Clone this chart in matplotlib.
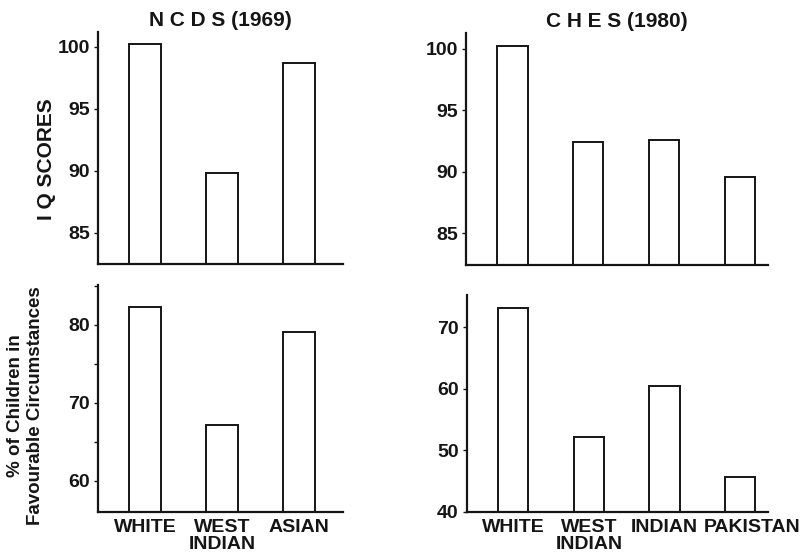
import matplotlib
matplotlib.use("Agg")
import matplotlib.pyplot as plt
from matplotlib.transforms import ScaledTranslation

plt.rcParams['font.family'] = ['Liberation Sans', 'DejaVu Sans']
plt.rcParams['font.weight'] = 'bold'

# Data
ncds_groups = ["WHITE", "WEST\nINDIAN", "ASIAN"]
ches_groups = ["WHITE", "WEST\nINDIAN", "INDIAN", "PAKISTAN"]
ncds_iq = [100.25, 89.8, 98.7]
ches_iq = [100.25, 92.45, 92.6, 89.6]
ncds_fav = [82.3, 67.2, 79.1]
ches_fav = [73.1, 52.1, 60.4, 45.7]

titles = ["N C D S (1969)", "C H E S (1980)"]

fig = plt.figure(figsize=(8.02, 5.54), dpi=100)
W, H = 802, 554

def ax_px(x0, y0, x1, y1):
    return fig.add_axes([x0 / W, 1 - y1 / H, (x1 - x0) / W, (y1 - y0) / H])

ax_tl = ax_px(98, 32, 343, 264)
ax_tr = ax_px(466, 33, 768, 265)
ax_bl = ax_px(98, 285, 343, 512)
ax_br = ax_px(467, 295, 768, 512)

FS = 14
LW = 1.4
INK = "#151515"

def style(ax):
    for s in ["top", "right"]:
        ax.spines[s].set_visible(False)
    for s in ["left", "bottom"]:
        ax.spines[s].set_linewidth(1.6)
        ax.spines[s].set_color(INK)
    ax.tick_params(axis="y", direction="out", length=3, width=1, pad=3,
                   labelsize=FS, colors=INK)
    ax.tick_params(axis="x", length=0, pad=5, labelsize=FS, colors=INK)

def bars(ax, cats, vals, width, bottom):
    x = list(range(len(cats)))
    ax.bar(x, [v - bottom for v in vals], bottom=bottom, width=width,
           color="white", edgecolor=INK, linewidth=LW)
    ax.set_xticks(x)

# Top-left
bars(ax_tl, ncds_groups, ncds_iq, 0.42, 82.5)
ax_tl.set_ylim(82.5, 101.2)
ax_tl.set_xlim(-0.61, 2.57)
ax_tl.set_yticks([85, 90, 95, 100])
ax_tl.set_xticklabels([])
style(ax_tl)
ax_tl.set_ylabel("I Q SCORES", fontsize=15, fontweight="bold", color=INK)
ax_tl.yaxis.set_label_coords(-0.172, 0.45)
ax_tl.set_title(titles[0], fontsize=15, fontweight="bold", pad=4, color=INK)

# Top-right
bars(ax_tr, ches_groups, ches_iq, 0.40, 82.4)
ax_tr.set_ylim(82.4, 101.3)
ax_tr.set_xlim(-0.613, 3.37)
ax_tr.set_yticks([85, 90, 95, 100])
ax_tr.set_xticklabels([])
style(ax_tr)
ax_tr.set_title(titles[1], fontsize=15, fontweight="bold", pad=4, color=INK)

# Bottom-left
bars(ax_bl, ncds_groups, ncds_fav, 0.42, 56)
ax_bl.set_ylim(56, 85.1)
ax_bl.set_xlim(-0.61, 2.57)
ax_bl.set_yticks([60, 65, 70, 75, 80, 85])
ax_bl.set_yticklabels(["60", "", "70", "", "80", ""])
style(ax_bl)
ax_bl.set_xticklabels(ncds_groups, linespacing=1.0)
ax_bl.set_ylabel("% of Children in\nFavourable Circumstances", fontsize=13.5,
                 fontweight="bold", linespacing=1.25, color=INK)
ax_bl.yaxis.set_label_coords(-0.22, 0.47)

# Bottom-right
bars(ax_br, ches_groups, ches_fav, 0.40, 40)
ax_br.set_ylim(40, 75.2)
ax_br.set_xlim(-0.613, 3.37)
ax_br.set_yticks([40, 50, 60, 70])
style(ax_br)
labs = ax_br.set_xticklabels(ches_groups, linespacing=1.0)
labs[3].set_transform(labs[3].get_transform() +
                      ScaledTranslation(12 / 100, 0, fig.dpi_scale_trans))

fig.savefig("out.png", dpi=100)
